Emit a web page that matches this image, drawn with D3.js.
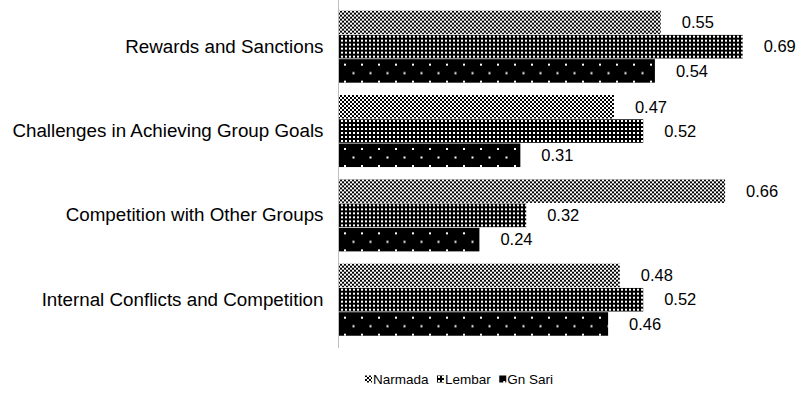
<!DOCTYPE html>
<html>
<head>
<meta charset="utf-8">
<script src="https://cdn.jsdelivr.net/npm/d3@7"></script>
<style>
  html, body { margin: 0; padding: 0; background: #fff; }
  svg { display: block; font-family: "Liberation Sans", Arial, sans-serif; }
</style>
</head>
<body>
<svg id="chart" width="800" height="402"></svg>
<script>
// Categories, top to bottom
const categories = [
  "Rewards and Sanctions",
  "Challenges in Achieving Group Goals",
  "Competition with Other Groups",
  "Internal Conflicts and Competition"
];
const seriesNames = ["Narmada", "Lembar", "Gn Sari"];
const narmada = [0.55, 0.47, 0.66, 0.48];
const lembar  = [0.69, 0.52, 0.32, 0.52];
const gnSari  = [0.54, 0.31, 0.24, 0.46];
const seriesValues = [narmada, lembar, gnSari];

const svg = d3.select("#chart");
const defs = svg.append("defs");

// Fill patterns for the three series
function makePattern(id, w, h, bg, draw) {
  const p = defs.append("pattern")
    .attr("id", id).attr("patternUnits", "userSpaceOnUse")
    .attr("width", w).attr("height", h);
  p.append("rect").attr("width", w).attr("height", h).attr("fill", bg);
  draw(p);
}
// Narmada: fine checkerboard
makePattern("pat0", 4, 4, "#fff", p => {
  p.append("rect").attr("x", 0).attr("y", 0).attr("width", 2).attr("height", 2).attr("fill", "#000");
  p.append("rect").attr("x", 2).attr("y", 2).attr("width", 2).attr("height", 2).attr("fill", "#000");
});
// Lembar: black with a dense grid of white dots
makePattern("pat1", 4, 4, "#000", p => {
  p.append("rect").attr("x", 1).attr("y", 1).attr("width", 2).attr("height", 2).attr("fill", "#fff");
});
// Gn Sari: black with sparse staggered white dots
makePattern("pat2", 17, 17, "#000", p => {
  p.append("rect").attr("x", 4).attr("y", 2).attr("width", 2).attr("height", 2).attr("fill", "#fff");
  p.append("rect").attr("x", 12.5).attr("y", 10.5).attr("width", 2).attr("height", 2).attr("fill", "#fff");
});
const fills = ["url(#pat0)", "url(#pat1)", "url(#pat2)"];

const x0 = 339;
const x = d3.scaleLinear().domain([0, 0.8]).range([x0, x0 + 0.8 * 585]);

const y = d3.scaleBand().domain(categories)
  .range([4.5, 341.9]).paddingInner(0.146).paddingOuter(0.073);
const ySub = d3.scaleBand().domain(seriesNames)
  .range([0, y.bandwidth()]).paddingInner(0.03);

const labelSize = 16.5;
const catSize = 18.8;
const legendSize = 13.5;

// Bars
const groups = svg.append("g").selectAll("g")
  .data(categories)
  .join("g")
  .attr("transform", d => `translate(0,${y(d)})`);

groups.each(function(cat, ci) {
  const g = d3.select(this);
  seriesNames.forEach((s, si) => {
    const v = seriesValues[si][ci];
    g.append("rect")
      .attr("x", x(0))
      .attr("y", ySub(s))
      .attr("width", x(v) - x(0))
      .attr("height", ySub.bandwidth())
      .attr("fill", fills[si]);
    g.append("text")
      .attr("x", x(v) + 21)
      .attr("y", ySub(s) + ySub.bandwidth() / 2)
      .attr("dy", "0.35em")
      .attr("font-size", labelSize)
      .attr("fill", "#000")
      .text(v.toFixed(2));
  });
});

// Category axis
const axis = svg.append("g")
  .attr("transform", `translate(${x0 - 0.5},0)`)
  .call(d3.axisLeft(y).tickSize(0).tickPadding(15));
axis.select(".domain").remove();
axis.append("line")
  .attr("x1", 0).attr("x2", 0).attr("y1", 0).attr("y2", 348)
  .attr("stroke", "#bfbfbf").attr("stroke-width", 1);
axis.selectAll(".tick text")
  .attr("font-size", catSize)
  .attr("font-family", "'Liberation Sans', Arial, sans-serif")
  .attr("fill", "#000");

// Legend, centred under the plot
const legend = svg.append("g").attr("transform", "translate(0,379)");
const items = legend.selectAll("g").data(seriesNames).join("g");
items.append("rect")
  .attr("x", 0).attr("y", -3.5)
  .attr("width", 7).attr("height", 7)
  .attr("fill", (d, i) => fills[i]);
items.append("text")
  .attr("x", 8).attr("y", 0).attr("dy", "0.35em")
  .attr("font-size", legendSize)
  .attr("fill", "#000")
  .text(d => d);
const gap = 8;
const widths = [];
items.each(function() { widths.push(this.getBBox().width); });
const total = d3.sum(widths) + gap * (widths.length - 1);
let cursor = 459 - total / 2;
items.attr("transform", (d, i) => {
  const t = `translate(${cursor},0)`;
  cursor += widths[i] + gap;
  return t;
});
</script>
</body>
</html>
